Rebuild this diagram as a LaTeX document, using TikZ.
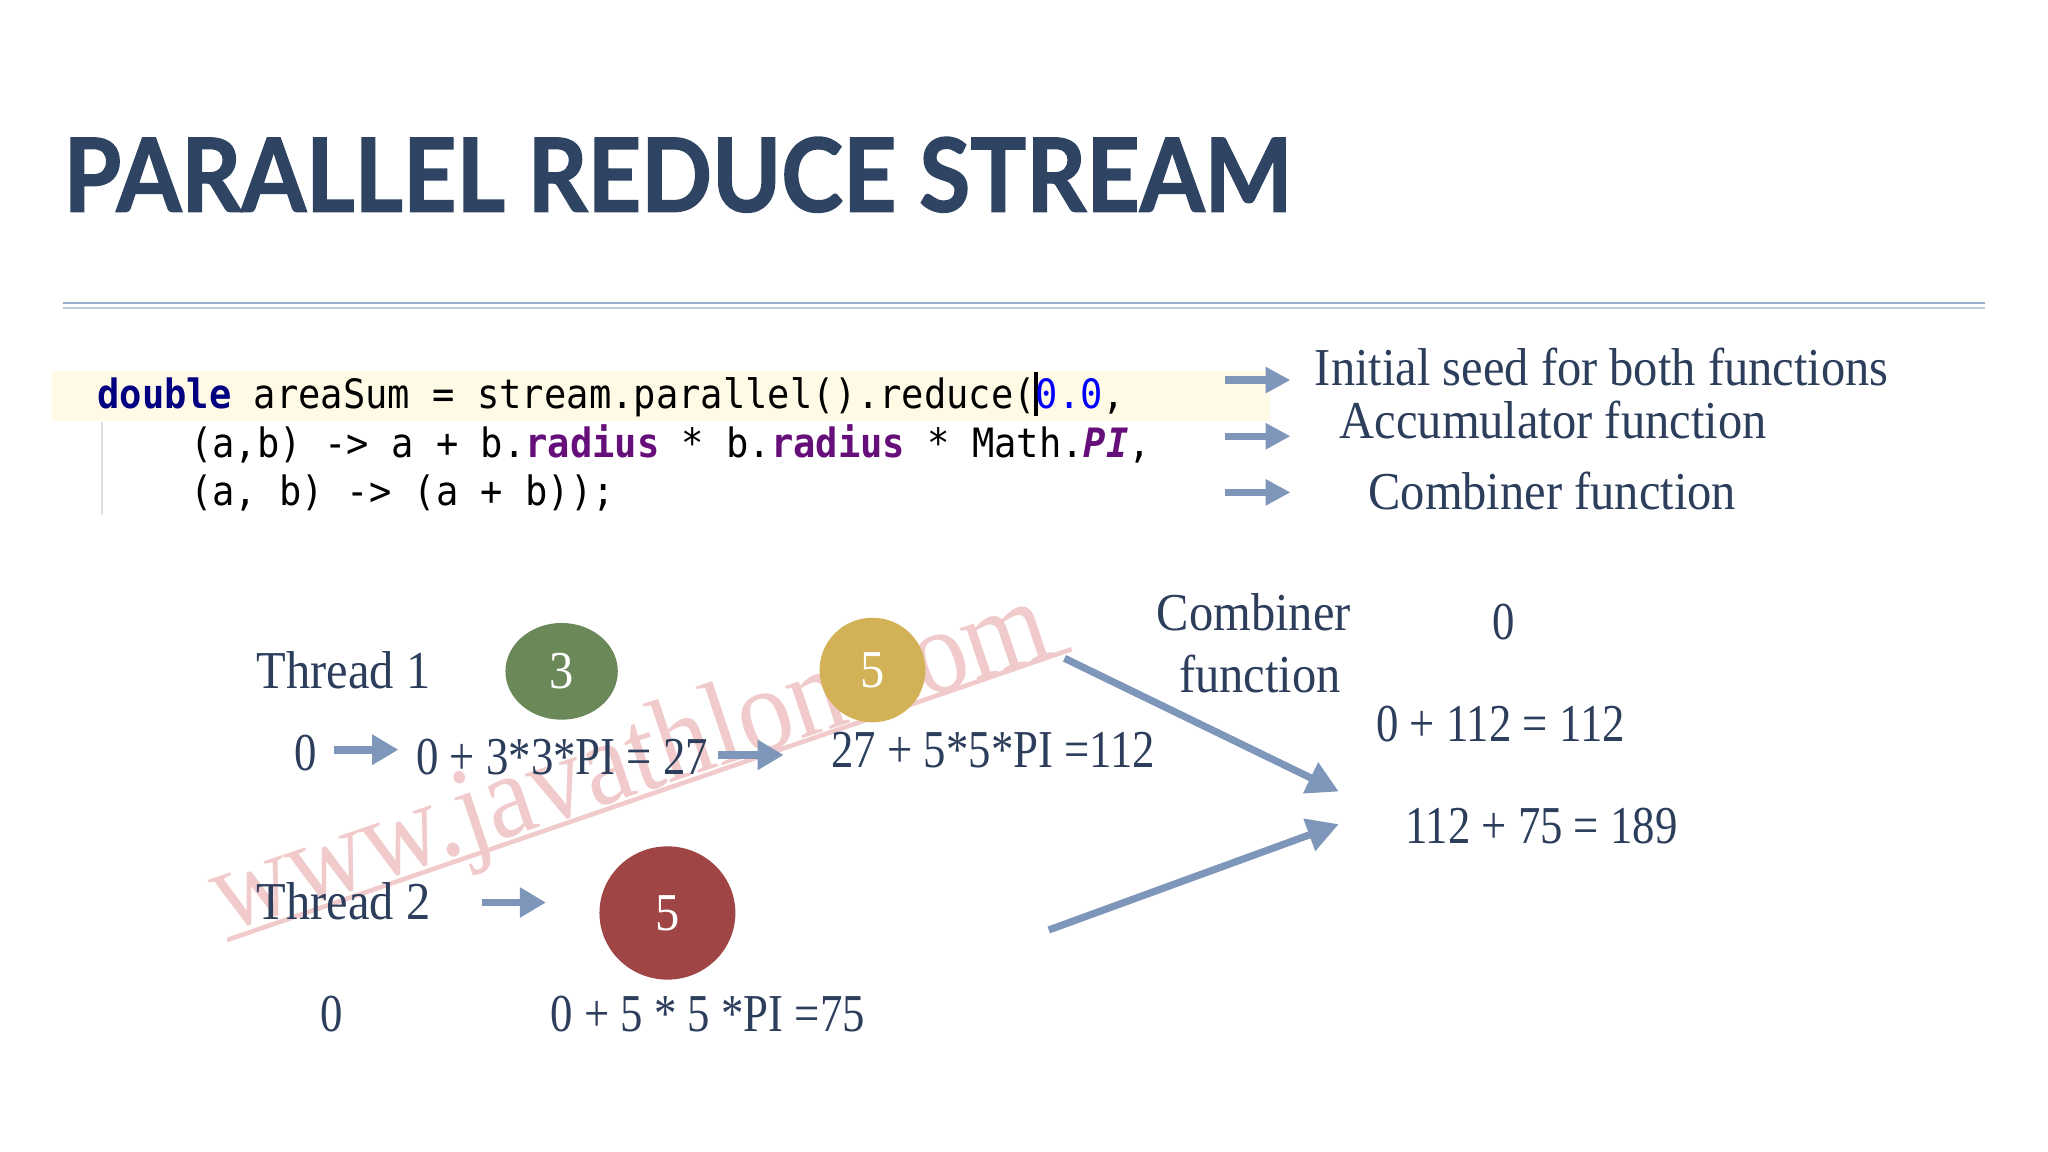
\documentclass[tikz,border=0pt]{standalone}
\usepackage{fontspec}
\usetikzlibrary{arrows.meta,shapes.geometric,calc}
\setmainfont{Liberation Serif}
\newfontfamily\slidefont{Liberation Serif}[FakeStretch=0.91]
\newfontfamily\numfont{Liberation Serif}[FakeStretch=0.84]
\newfontfamily\titlefont{Lato}[FakeBold=1.5]
\newfontfamily\codefont{DejaVu Sans Mono}[FakeStretch=0.918]
\definecolor{navyc}{RGB}{44,62,92}
\definecolor{titlec}{RGB}{46,68,98}
\definecolor{arrowc}{RGB}{125,150,186}
\definecolor{hlc}{RGB}{255,250,229}
\definecolor{kwc}{RGB}{0,0,128}
\definecolor{numc}{RGB}{0,0,255}
\definecolor{fieldc}{RGB}{102,14,122}
\definecolor{greenc}{RGB}{107,136,89}
\definecolor{yellowc}{RGB}{211,177,86}
\definecolor{redc}{RGB}{159,69,69}
\definecolor{wmc}{RGB}{241,203,203}
\definecolor{ruleone}{RGB}{150,176,208}
\definecolor{ruletwo}{RGB}{192,200,212}
\definecolor{guidec}{RGB}{222,222,222}
\newcommand\crsr{\rlap{\kern-0.4pt\rule[-1.5pt]{0.9pt}{9.6pt}}}
\begin{document}
\begin{tikzpicture}[x=0.01cm, y=-0.01cm,
  txt/.style={font=\slidefont\fontsize{11.6}{14}\selectfont, text=navyc, inner sep=0pt, anchor=base west},
  num/.style={txt, font=\numfont\fontsize{11.6}{14}\selectfont},
  code/.style={font=\codefont\fontsize{8.8}{10}\selectfont, text=black, inner sep=0pt, anchor=base west},
  blockarrow/.style={draw=arrowc, line width=0.55mm, -{Triangle[length=1.9mm,width=1.9mm]}},
  midarrow/.style={draw=arrowc, line width=0.6mm, -{Triangle[length=2.0mm,width=2.2mm]}},
  bigarrow/.style={draw=arrowc, line width=0.55mm, -{Triangle[length=2.4mm,width=2.5mm]}},
  ball/.style={ellipse, inner sep=0pt, text=white, font=\slidefont\fontsize{11.6}{14}\selectfont}]
\useasboundingbox (0,0) rectangle (1568,882);
\fill[white] (0,0) rectangle (1568,882);

% watermark
\node[rotate=18.5, anchor=base west, inner sep=0pt, text=wmc] (wm) at (172,714)
  {\resizebox{6.7cm}{!}{\slidefont www.javathlon.com}};
\draw[wmc, line width=0.35mm]
  ($(wm.base west)!0.06cm!-90:(wm.base east)$) -- ($(wm.base east)!-0.12cm!0:(wm.base west)$);

% title
\node[anchor=base west, inner sep=0pt, text=titlec] (title) at (48,162)
  {\resizebox{9.4cm}{0.57cm}{\titlefont\bfseries PARALLEL REDUCE STREAM}};
\draw[ruleone, line width=0.18mm] (48,232) -- (1520,232);
\draw[ruletwo, line width=0.18mm] (48,236) -- (1520,236);

% code
\fill[hlc] (40,284) rectangle (972,322);
\draw[guidec, line width=0.15mm] (78,323) -- (78,394);
\node[code] (code1) at (74,313)
  {{\color{kwc}\bfseries double} areaSum = stream.parallel().reduce(\crsr{\color{numc}0.0},};
\node[code] (code2) at (145,350)
  {(a,b) -> a + b.{\color{fieldc}\bfseries radius} * b.{\color{fieldc}\bfseries radius} * Math.{\color{fieldc}\bfseries\itshape PI},};
\node[code] (code3) at (145,387) {(a, b) -> (a + b));};

% labels for code
\node[txt] (lab1) at (1006,295) {Initial seed for both functions};
\node[txt] (lab2) at (1025,336) {Accumulator function};
\node[txt] (lab3) at (1047,390) {Combiner function};
\coordinate (a1s) at (938,291); \coordinate (a1e) at (988,291);
\coordinate (a2s) at (938,334); \coordinate (a2e) at (988,334);
\coordinate (a3s) at (938,377); \coordinate (a3e) at (988,377);
\draw[blockarrow] (a1s) -- (a1e);
\draw[blockarrow] (a2s) -- (a2e);
\draw[blockarrow] (a3s) -- (a3e);

% thread 1
\node[txt] (th1) at (196,527) {Thread 1};
\node[ball, fill=greenc, minimum width=0.86cm, minimum height=0.74cm] (b3) at (430,514) {3};
\node[ball, fill=yellowc, minimum width=0.81cm, minimum height=0.80cm] (b5a) at (668,513) {5};
\node[num] (z1) at (225,590) {0};
\node[num] (c1) at (318,593) {0 + 3*3*PI = 27};
\node[num] (c2) at (636,588) {27 + 5*5*PI =112};
\coordinate (t1a) at (256,574); \coordinate (t1b) at (305,574);
\coordinate (t1c) at (550,578); \coordinate (t1d) at (600,578);
\draw[midarrow] (t1a) -- (t1b);
\draw[midarrow] (t1c) -- (t1d);

% thread 2
\node[txt] (th2) at (196,704) {Thread 2};
\node[ball, fill=redc, minimum width=1.04cm, minimum height=1.02cm] (b5b) at (511,699) {5};
\node[num] (z2) at (245,790) {0};
\node[num] (c3) at (421,790) {0 + 5 * 5 *PI =75};
\coordinate (t2a) at (369,691); \coordinate (t2b) at (418,691);
\draw[midarrow] (t2a) -- (t2b);

% combiner
\node[txt] (comb1) at (885,483) {Combiner};
\node[txt] (comb2) at (902,530) {function};
\node[num] (z3) at (1142,490) {0};
\node[num] (r1) at (1053,568) {0 + 112 = 112};
\node[num] (r2) at (1075,646) {112 + 75 = 189};
\coordinate (m1s) at (815,504); \coordinate (m1e) at (1025,606);
\coordinate (m2s) at (803,712); \coordinate (m2e) at (1025,631);
\draw[bigarrow] (m1s) -- (m1e);
\draw[bigarrow] (m2s) -- (m2e);
\end{tikzpicture}
\end{document}
